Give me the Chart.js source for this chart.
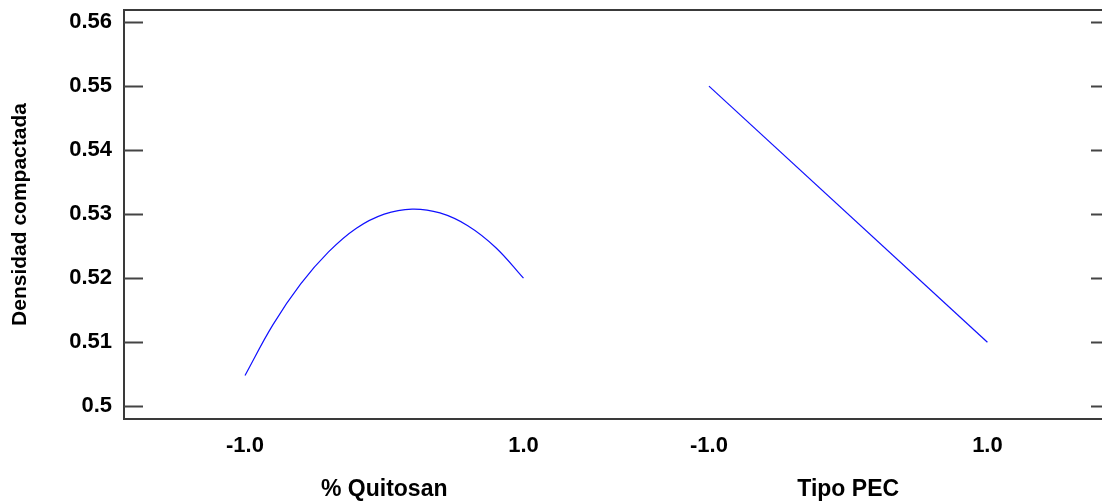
<!DOCTYPE html>
<html>
<head>
<meta charset="utf-8">
<script src="https://cdn.jsdelivr.net/npm/chart.js@4/dist/chart.umd.min.js"></script>
<style>
  html, body { margin: 0; padding: 0; background: #fff; overflow: hidden; }
</style>
</head>
<body>
<canvas id="myChart" width="1106" height="502"></canvas>
<script>
// levels of each factor and the fitted density
var quitosanLevels = [-1.0, -0.8, -0.6, -0.4, -0.2, 0.0, 0.2, 0.4, 0.6, 0.8, 1.0];
var quitosanDensity = [0.5048, 0.5127, 0.5191, 0.5241, 0.5278, 0.5300, 0.5308, 0.5302, 0.5282, 0.5248, 0.5200];
var tipoPecLevels = [-1.0, 1.0];
var tipoPecDensity = [0.5500, 0.5100];
var factorNames = ['% Quitosan', 'Tipo PEC'];
var levelLabels = ['-1.0', '1.0'];
var yTicks = [0.50, 0.51, 0.52, 0.53, 0.54, 0.55, 0.56];

// second factor panel is shifted to the right on the shared x scale
var panelOffset = 3.332;

var family = "'Liberation Sans', Arial, sans-serif";
var tickFont = { family: family, size: 22, weight: 'bold' };
var nameFont = { family: family, size: 23, weight: 'bold' };
var yTitleFont = { family: family, size: 21, weight: 'bold' };

function toPoints(xs, ys, off) {
    return xs.map(function (x, i) { return { x: x + off, y: ys[i] }; });
}

var frame = {
    id: 'frame',
    afterDraw: function (chart) {
        var c = chart.ctx, a = chart.chartArea, y = chart.scales.y;
        c.save();
        c.strokeStyle = '#3a3a3a';
        c.lineWidth = 2;
        c.strokeRect(a.left, a.top, a.right - a.left, a.bottom - a.top);
        c.strokeStyle = '#444';
        yTicks.forEach(function (v) {
            var py = Math.round(y.getPixelForValue(v)) + 0.5;
            c.beginPath();
            c.moveTo(a.left, py);
            c.lineTo(a.left + 19, py);
            c.moveTo(a.right - 12, py);
            c.lineTo(a.right, py);
            c.stroke();
        });
        c.restore();
    }
};

var ctx = document.getElementById('myChart').getContext('2d');
var myChart = new Chart(ctx, {
    type: 'line',
    data: {
        datasets: [
            {
                label: factorNames[0],
                data: toPoints(quitosanLevels, quitosanDensity, 0),
                borderColor: '#1010ff',
                borderWidth: 1.2,
                pointRadius: 0,
                tension: 0.4,
                fill: false
            },
            {
                label: factorNames[1],
                data: toPoints(tipoPecLevels, tipoPecDensity, panelOffset),
                borderColor: '#1010ff',
                borderWidth: 1.2,
                pointRadius: 0,
                fill: false
            }
        ]
    },
    options: {
        responsive: false,
        animation: false,
        layout: { autoPadding: false, padding: { top: 10, right: 3, left: 0, bottom: 0 } },
        plugins: { legend: { display: false }, tooltip: { enabled: false } },
        scales: {
            x: {
                type: 'linear',
                position: 'bottom',
                min: -1.869,
                max: 5.162,
                grid: { display: false, drawTicks: false },
                border: { display: false },
                afterBuildTicks: function (s) {
                    s.ticks = [-1, 1, -1 + panelOffset, 1 + panelOffset].map(function (v) { return { value: v }; });
                },
                afterFit: function (s) { s.height = 46; s.paddingLeft = 0; s.paddingRight = 0; },
                ticks: {
                    color: '#000',
                    font: tickFont,
                    padding: 14,
                    maxRotation: 0,
                    autoSkip: false,
                    callback: function (v, i) { return levelLabels[i % 2]; }
                }
            },
            x2: {
                type: 'linear',
                position: 'bottom',
                min: -1.869,
                max: 5.162,
                grid: { display: false, drawTicks: false },
                border: { display: false },
                afterBuildTicks: function (s) {
                    s.ticks = [0, panelOffset].map(function (v) { return { value: v }; });
                },
                afterFit: function (s) { s.height = 37; s.paddingLeft = 0; s.paddingRight = 0; },
                ticks: {
                    color: '#000',
                    font: nameFont,
                    padding: 11,
                    maxRotation: 0,
                    autoSkip: false,
                    callback: function (v, i) { return factorNames[i]; }
                }
            },
            y: {
                min: 0.498,
                max: 0.5619,
                grid: { display: false, drawTicks: false },
                border: { display: false },
                afterBuildTicks: function (s) {
                    s.ticks = yTicks.map(function (v) { return { value: v }; });
                },
                afterFit: function (s) { s.width = 124; s.paddingTop = 0; s.paddingBottom = 0; },
                ticks: {
                    color: '#000',
                    font: tickFont,
                    padding: 12,
                    callback: function (v) { return String(Number(v.toFixed(2))); }
                },
                title: {
                    display: true,
                    text: 'Densidad compactada',
                    color: '#000',
                    font: yTitleFont,
                    padding: { top: 8, bottom: 0 }
                }
            }
        }
    },
    plugins: [frame]
});
</script>
</body>
</html>
